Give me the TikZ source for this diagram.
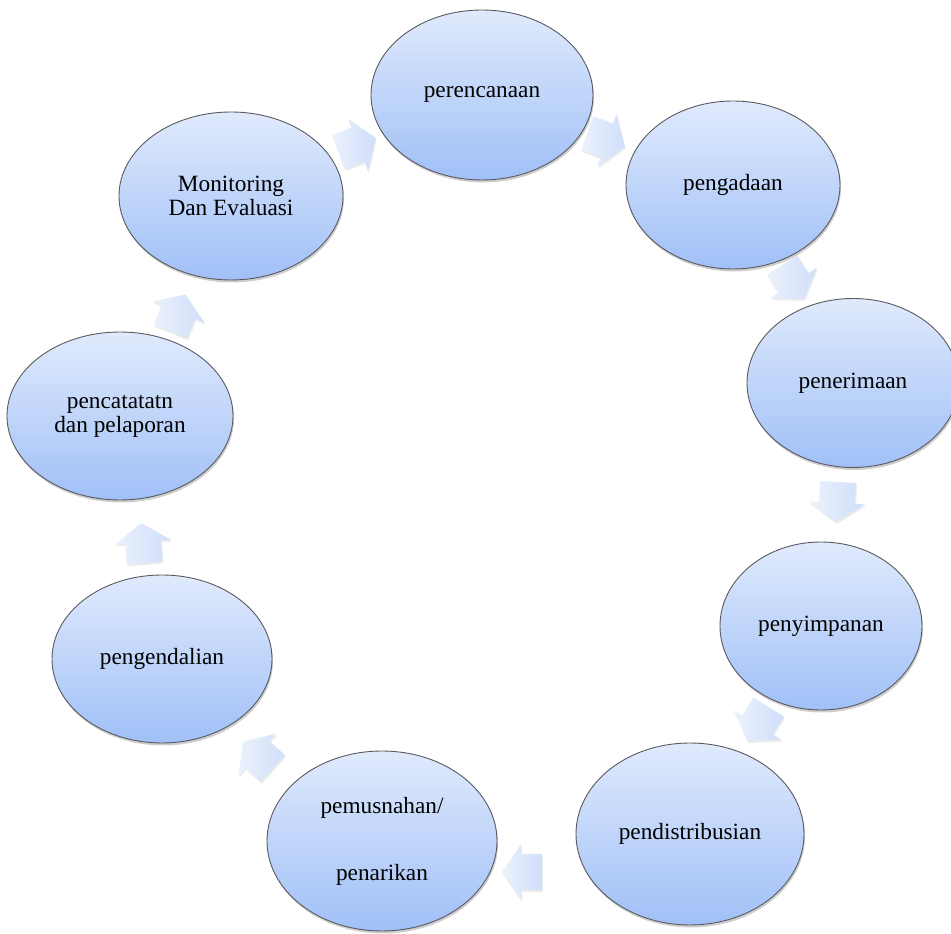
\documentclass[tikz,border=0pt]{standalone}
\usepackage{fontspec}
\setmainfont{Liberation Serif}
\usetikzlibrary{shapes.geometric,shadows}
\definecolor{elltop}{RGB}{224,234,252}
\definecolor{ellbot}{RGB}{160,192,247}
\definecolor{elledge}{RGB}{90,90,96}
\definecolor{arrtop}{RGB}{236,242,253}
\definecolor{arrbot}{RGB}{208,222,249}
\tikzset{
  stage/.style={ellipse, draw=elledge, line width=0.9pt,
    top color=elltop, bottom color=ellbot, inner sep=0pt, align=center,
    font=\fontsize{23.3}{24}\selectfont,
    drop shadow={shadow xshift=1pt, shadow yshift=-2.5pt, opacity=0.35, fill=black!55}},
  arrowshade/.style={left color=arrtop, right color=arrbot,
    preaction={fill=black, opacity=0.08, transform canvas={xshift=1pt, yshift=-2pt}}},
  pics/blockarr/.style={code={
    \coordinate (-c) at (0,0);
    \shade[arrowshade] (-20,-18) -- (1,-18) -- (1,-28) -- (20,0) -- (1,28) -- (1,18) -- (-20,18) -- cycle;
  }}
}
\begin{document}
\begin{tikzpicture}[x=1pt,y=1pt]
\useasboundingbox (0,0) rectangle (951,934);
% stages
\node[stage, minimum width=222pt, minimum height=170pt] (e1) at (482,839) {perencanaan};
\node[stage, minimum width=214pt, minimum height=168pt] (e2) at (733,749) {pengadaan};
\node[stage, minimum width=212pt, minimum height=169pt] (e3) at (853,551) {penerimaan};
\node[stage, minimum width=202pt, minimum height=168pt] (e4) at (821,308) {penyimpanan};
\node[stage, minimum width=228pt, minimum height=182pt] (e5) at (690,100) {pendistribusian};
\node[stage, minimum width=230pt, minimum height=180pt] (e6) at (382,93) {pemusnahan/\\[43pt]penarikan};
\node[stage, minimum width=220pt, minimum height=168pt] (e7) at (162,275) {pengendalian};
\node[stage, minimum width=226pt, minimum height=168pt] (e8) at (120,518) {pencatatatn\\dan pelaporan};
\node[stage, minimum width=224pt, minimum height=168pt] (e9) at (231,738) {Monitoring\\Dan Evaluasi};
% cycle arrows
\pic[rotate=21]   (a1) at (357,789) {blockarr};
\pic[rotate=-20]  (a2) at (606,794) {blockarr};
\pic[rotate=-57]  (a3) at (793,652) {blockarr};
\pic[rotate=-93]  (a4) at (837,432) {blockarr};
\pic[rotate=-122] (a5) at (758,210) {blockarr};
\pic[rotate=180]  (a6) at (522,62) {blockarr};
\pic[rotate=138]  (a7) at (258,179) {blockarr};
\pic[rotate=95]   (a8) at (143,391) {blockarr};
\pic[rotate=68]   (a9) at (178,621) {blockarr};
\end{tikzpicture}
\end{document}
